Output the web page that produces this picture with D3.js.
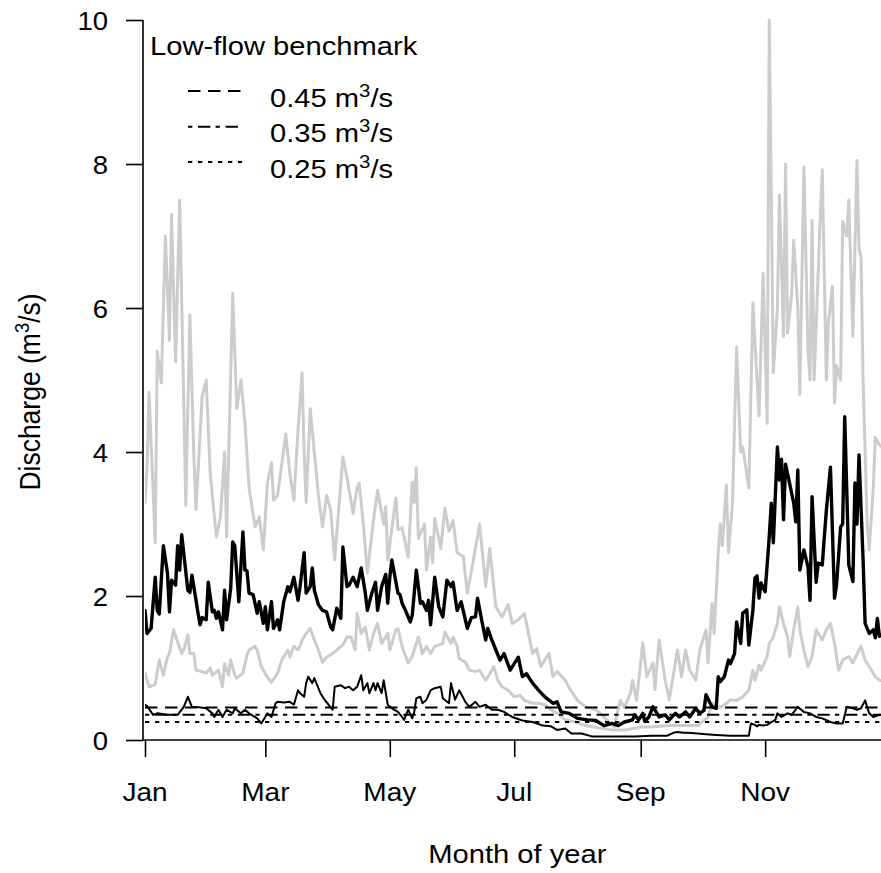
<!DOCTYPE html>
<html>
<head>
<meta charset="utf-8">
<script src="https://cdn.jsdelivr.net/npm/d3@7"></script>
<style>
  html, body { margin: 0; padding: 0; background: #ffffff; }
  svg { display: block; }
  text { font-family: "Liberation Sans", Arial, Helvetica, sans-serif; fill: #000; }
</style>
</head>
<body>
<svg id="chart" width="881" height="873"></svg>
<script>
// Daily discharge (m³/s) by day of year (0 = 1 January)
const upperBand = [[0,3.3],[1,3.75],[2,4.83],[5,2.74],[6,5.4],[8,4.96],[10,7.0],[12,5.55],[13,7.3],[15,5.25],[17,7.5],[20,3.26],[22,5.9],[24,3.9],[25,3.2],[28,4.77],[30,5.0],[32,3.7],[33,3.4],[35,2.82],[37,3.1],[39,4.0],[40,2.82],[43,6.2],[45,4.6],[47,5.0],[49,4.4],[51,3.5],[54,2.96],[56,3.1],[58,2.64],[60,3.57],[62,3.85],[63,3.33],[65,3.4],[69,4.25],[71,3.7],[73,3.33],[75,4.3],[77,5.1],[78,4.0],[79,3.3],[81,4.6],[83,4.0],[85,3.4],[87,2.96],[89,3.4],[91,3.2],[93,2.5],[97,3.93],[99,3.65],[102,3.15],[104,3.5],[105,3.57],[107,3.0],[109,2.32],[112,3.05],[114,3.47],[117,3.0],[118,3.24],[119,2.5],[123,3.36],[124,2.92],[126,2.95],[129,2.54],[131,3.58],[132,3.3],[133,3.78],[134,2.8],[137,3.0],[138,2.36],[140,2.82],[141,2.46],[142,3.08],[145,2.66],[147,3.22],[149,2.9],[151,3.05],[153,2.6],[156,2.55],[158,2.04],[161,2.5],[164,3.0],[167,2.13],[169,2.66],[172,1.85],[175,1.71],[178,1.88],[180,1.62],[183,1.67],[186,1.76],[190,1.2],[192,1.27],[194,1.02],[198,1.2],[200,0.88],[202,0.95],[206,0.83],[208,0.72],[212,0.55],[216,0.46],[221,0.42],[225,0.32],[230,0.18],[233,0.55],[235,0.45],[238,0.65],[239,0.83],[241,0.55],[244,1.35],[246,0.88],[249,1.07],[250,0.7],[252,1.39],[255,0.83],[257,0.56],[261,1.25],[263,0.88],[265,1.25],[267,0.97],[270,0.83],[272,1.25],[275,1.53],[276,1.07],[278,1.9],[279,1.48],[281,2.6],[282,3.0],[283,2.7],[285,3.54],[286,2.6],[288,3.3],[290,5.46],[292,4.0],[293,4.07],[296,3.5],[298,6.07],[300,5.0],[301,4.5],[303,6.48],[305,4.4],[306,10.0],[307,7.64],[308,5.1],[310,6.0],[311,7.57],[313,5.6],[314,8.0],[315,5.65],[317,6.2],[318,6.94],[320,6.0],[321,4.8],[323,7.96],[325,5.4],[326,5.0],[327,7.22],[328,5.0],[331,7.25],[332,7.92],[334,5.0],[335,5.8],[337,6.3],[338,4.68],[339,5.2],[341,5.0],[342,7.2],[344,7.0],[345,7.5],[347,5.6],[349,8.05],[350,6.83],[351,6.7],[352,5.0],[354,3.0],[355,2.64],[357,3.5],[358,4.2],[360,4.1],[364,4.0]];

const lowerBand = [[0,0.93],[2,0.74],[5,0.77],[7,1.11],[9,0.9],[11,1.15],[12,1.2],[14,1.53],[16,1.36],[18,1.2],[19,1.25],[21,1.46],[22,1.2],[24,1.2],[25,0.97],[28,0.95],[30,0.93],[32,1.0],[33,0.9],[36,0.97],[38,0.74],[39,1.06],[41,0.9],[42,1.11],[44,0.9],[45,0.86],[48,0.93],[50,1.18],[51,1.25],[54,1.3],[55,1.25],[57,1.02],[59,0.92],[62,0.8],[65,0.93],[67,1.11],[70,1.25],[71,1.15],[73,1.3],[75,1.25],[76,1.3],[77,1.39],[79,1.48],[81,1.55],[83,1.39],[85,1.25],[87,1.08],[89,1.15],[92,1.2],[94,1.25],[97,1.32],[99,1.43],[101,1.43],[103,1.25],[104,1.76],[106,1.48],[108,1.57],[110,1.25],[112,1.48],[114,1.62],[116,1.34],[119,1.48],[120,1.25],[123,1.53],[124,1.55],[126,1.3],[129,1.07],[131,1.16],[134,1.43],[136,1.2],[138,1.3],[140,1.2],[142,1.3],[144,1.32],[146,1.34],[147,1.5],[150,1.34],[151,1.43],[153,1.3],[154,1.13],[157,1.08],[159,0.97],[162,0.95],[164,0.97],[167,0.83],[169,0.92],[171,1.02],[173,0.83],[175,0.74],[178,0.69],[181,0.6],[184,0.62],[186,0.55],[190,0.51],[193,0.51],[196,0.49],[199,0.42],[202,0.37],[206,0.28],[211,0.25],[216,0.2],[222,0.17],[229,0.14],[235,0.14],[243,0.18],[248,0.18],[257,0.2],[271,0.2],[276,0.32],[278,0.51],[282,0.45],[285,0.51],[287,0.56],[290,0.55],[293,0.6],[296,0.69],[298,0.97],[299,0.83],[301,1.04],[302,0.97],[305,1.16],[306,1.34],[308,1.43],[310,1.62],[311,1.85],[313,1.62],[315,1.43],[316,1.16],[318,1.53],[320,1.85],[321,1.53],[323,1.25],[325,1.02],[327,1.16],[329,1.53],[332,1.39],[334,1.53],[336,1.62],[338,1.34],[340,0.97],[342,1.11],[345,1.16],[347,1.07],[350,1.25],[351,1.3],[353,1.11],[355,1.02],[358,0.88],[360,0.83],[364,0.8]];

const median = [[0,1.8],[1,1.48],[3,1.55],[5,2.26],[6,1.8],[7,1.75],[9,2.7],[11,2.32],[12,1.78],[13,2.22],[15,2.15],[16,2.7],[17,2.36],[18,2.85],[21,2.08],[22,2.05],[23,2.29],[25,1.94],[26,1.76],[27,1.6],[28,1.7],[30,1.67],[31,2.19],[33,1.78],[34,1.8],[35,1.69],[36,1.78],[38,1.53],[39,2.08],[40,1.67],[42,2.1],[43,2.75],[44,2.7],[46,1.92],[47,2.4],[48,2.89],[49,2.36],[50,2.35],[51,2.04],[53,2.02],[55,1.76],[56,1.92],[58,1.62],[59,1.85],[60,1.53],[62,1.92],[63,1.55],[65,1.67],[66,1.53],[68,1.92],[70,2.13],[71,2.06],[73,2.26],[75,1.94],[76,2.13],[78,2.6],[79,2.04],[81,2.13],[82,2.39],[83,2.08],[85,1.88],[87,1.8],[89,1.78],[91,1.57],[92,1.53],[94,1.83],[96,1.69],[97,2.68],[99,2.13],[100,2.15],[102,2.26],[104,2.13],[106,2.39],[108,2.04],[109,1.8],[111,2.02],[113,2.19],[114,1.8],[116,2.13],[118,2.3],[119,1.9],[120,2.26],[121,2.5],[124,2.04],[125,2.02],[126,1.9],[128,1.78],[130,1.64],[131,1.73],[133,2.36],[135,1.9],[136,1.92],[138,1.8],[139,1.94],[140,1.6],[142,2.26],[144,1.85],[146,1.71],[148,2.22],[150,2.13],[151,2.19],[153,1.8],[155,1.92],[158,1.55],[160,1.7],[162,1.71],[163,1.97],[165,1.67],[167,1.39],[168,1.55],[170,1.39],[172,1.25],[174,1.11],[176,1.2],[179,0.97],[181,1.06],[183,1.15],[185,0.88],[187,0.92],[190,0.79],[193,0.69],[196,0.6],[200,0.51],[202,0.53],[204,0.39],[208,0.37],[212,0.3],[217,0.28],[221,0.27],[225,0.2],[229,0.23],[232,0.2],[235,0.25],[239,0.28],[240,0.35],[242,0.28],[244,0.37],[245,0.26],[247,0.32],[249,0.46],[251,0.37],[252,0.32],[255,0.35],[257,0.28],[260,0.37],[262,0.32],[265,0.39],[267,0.32],[270,0.44],[272,0.37],[274,0.41],[275,0.63],[277,0.51],[278,0.46],[280,0.44],[281,0.88],[282,0.81],[284,0.88],[286,1.11],[287,1.06],[289,1.2],[290,1.64],[292,1.34],[293,1.76],[295,1.81],[296,1.32],[298,1.81],[299,2.25],[300,2.28],[301,1.97],[302,2.18],[304,2.06],[306,2.82],[307,3.29],[308,2.74],[310,4.07],[311,3.61],[312,3.9],[313,3.06],[314,3.83],[316,3.56],[318,3.29],[319,3.03],[320,3.75],[321,2.36],[323,2.64],[325,2.4],[326,1.94],[327,3.38],[329,2.19],[330,2.46],[332,2.43],[333,2.82],[334,3.19],[336,3.79],[338,1.97],[339,2.16],[341,2.96],[342,3.0],[343,4.49],[345,2.43],[347,2.2],[348,3.57],[349,3.0],[350,3.96],[352,2.5],[353,1.62],[355,1.48],[357,1.53],[358,1.42],[359,1.69],[360,1.44],[364,1.5]];

const dryYear = [[0,0.49],[1,0.47],[4,0.35],[6,0.37],[11,0.35],[16,0.35],[19,0.46],[21,0.6],[23,0.46],[25,0.46],[30,0.44],[33,0.37],[34,0.32],[36,0.42],[38,0.32],[40,0.42],[43,0.37],[44,0.44],[47,0.37],[49,0.42],[51,0.37],[55,0.3],[57,0.23],[60,0.37],[62,0.32],[64,0.51],[65,0.53],[68,0.52],[71,0.53],[73,0.49],[75,0.69],[76,0.65],[78,0.6],[79,0.79],[80,0.88],[82,0.79],[83,0.86],[86,0.65],[88,0.56],[92,0.42],[93,0.74],[96,0.76],[98,0.72],[100,0.74],[102,0.69],[104,0.74],[106,0.9],[107,0.69],[109,0.79],[110,0.65],[112,0.79],[113,0.69],[114,0.79],[116,0.65],[117,0.83],[119,0.49],[121,0.44],[124,0.39],[126,0.32],[127,0.28],[129,0.42],[131,0.3],[132,0.39],[133,0.58],[135,0.6],[136,0.51],[138,0.56],[140,0.69],[142,0.72],[145,0.74],[146,0.58],[149,0.51],[150,0.79],[152,0.56],[154,0.69],[157,0.53],[159,0.46],[162,0.53],[164,0.46],[167,0.49],[170,0.42],[173,0.42],[176,0.39],[180,0.32],[185,0.27],[190,0.25],[195,0.2],[199,0.19],[202,0.14],[206,0.16],[209,0.09],[214,0.09],[219,0.05],[225,0.05],[232,0.05],[240,0.05],[248,0.06],[256,0.06],[259,0.1],[261,0.11],[264,0.1],[266,0.1],[271,0.09],[275,0.08],[280,0.07],[287,0.06],[296,0.06],[297,0.23],[299,0.21],[300,0.19],[301,0.21],[303,0.2],[305,0.21],[306,0.23],[309,0.28],[310,0.37],[312,0.32],[315,0.37],[317,0.35],[320,0.46],[323,0.39],[326,0.37],[329,0.32],[332,0.3],[336,0.25],[339,0.23],[342,0.23],[344,0.46],[347,0.44],[349,0.42],[351,0.44],[353,0.55],[355,0.37],[357,0.32],[360,0.35],[364,0.35]];

// Low-flow benchmarks (m³/s)
const benchmarks = [0.45, 0.35, 0.25];
const benchmarkLabels = ["0.45", "0.35", "0.25"];

// Axis ticks
const monthTicks = [0, 59, 120, 181, 243, 304];
const monthLabels = ["Jan", "Mar", "May", "Jul", "Sep", "Nov"];
const yTicks = [0, 2, 4, 6, 8, 10];

(function draw() {
  const svg = d3.select("#chart");
  const W = 881;
  const pLeft = 145, pTop = 20, pBottom = 740, pRight = 889.6;

  const x = d3.scaleLinear().domain([0, 365]).range([pLeft, pRight]);
  const y = d3.scaleLinear().domain([0, 10]).range([pBottom, pTop]);

  const stretch = 1.1; // glyphs are slightly wide

  svg.append("defs").append("clipPath").attr("id", "plotClip")
    .append("rect").attr("x", pLeft).attr("y", 0).attr("width", W - pLeft).attr("height", pBottom + 1);

  const plot = svg.append("g").attr("clip-path", "url(#plotClip)");

  const line = d3.line().x(d => x(d[0])).y(d => y(d[1]));

  const seriesStyles = [
    { data: upperBand, color: "#cccccc", width: 3 },
    { data: lowerBand, color: "#cccccc", width: 3 },
    { data: median, color: "#000000", width: 3.4 },
    { data: dryYear, color: "#000000", width: 2 }
  ];
  seriesStyles.forEach(s => {
    plot.append("path")
      .datum(s.data)
      .attr("d", line)
      .attr("fill", "none")
      .attr("stroke", s.color)
      .attr("stroke-width", s.width)
      .attr("stroke-linejoin", "round")
      .attr("stroke-linecap", "round");
  });

  const dashes = ["12.5,7.5", "4.3,5.7,12.3,5.3", "4.3,5.7"];
  benchmarks.forEach((b, i) => {
    plot.append("line")
      .attr("x1", pLeft).attr("x2", pRight)
      .attr("y1", y(b)).attr("y2", y(b))
      .attr("stroke", "#000").attr("stroke-width", 2)
      .attr("stroke-dasharray", dashes[i]);
  });

  // Y axis
  const yAxis = d3.axisLeft(y).tickValues(yTicks).tickSize(17).tickFormat(() => "");
  const gy = svg.append("g").attr("transform", `translate(${pLeft - 2},0)`).call(yAxis);
  gy.select(".domain").attr("d", `M0,${pTop}V${pBottom}`).attr("stroke-width", 1.6);
  gy.selectAll(".tick line").attr("stroke-width", 1.6);
  yTicks.forEach(v => {
    svg.append("text")
      .attr("transform", `translate(108,${y(v) + 10}) scale(${stretch},1)`)
      .attr("text-anchor", "end")
      .attr("font-size", 25)
      .text(v);
  });

  // X axis
  const xAxis = d3.axisBottom(x).tickValues(monthTicks).tickSize(17).tickFormat(() => "");
  const gx = svg.append("g").attr("transform", `translate(0,${pBottom})`).call(xAxis);
  gx.select(".domain").attr("d", `M${pLeft - 2},0H${pRight}`).attr("stroke-width", 1.6);
  gx.selectAll(".tick line").attr("stroke-width", 1.6);
  monthTicks.forEach((d, i) => {
    svg.append("text")
      .attr("transform", `translate(${x(d)},801) scale(${stretch},1)`)
      .attr("text-anchor", "middle")
      .attr("font-size", 25.5)
      .text(monthLabels[i]);
  });

  // Axis titles
  svg.append("text")
    .attr("transform", `translate(${(pLeft + pRight) / 2},863) scale(${stretch},1)`)
    .attr("text-anchor", "middle")
    .attr("font-size", 26.5)
    .text("Month of year");

  const yt = svg.append("text")
    .attr("transform", `translate(40,${(pTop + pBottom) / 2 + 12}) scale(${stretch},1) rotate(-90)`)
    .attr("text-anchor", "middle")
    .attr("font-size", 26.5);
  yt.append("tspan").text("Discharge (m");
  yt.append("tspan").attr("font-size", 18.5).attr("dy", -10).text("3");
  yt.append("tspan").attr("dy", 10).text("/s)");

  // Legend
  svg.append("text")
    .attr("transform", `translate(150,55) scale(${stretch},1)`)
    .attr("font-size", 26.5)
    .text("Low-flow benchmark");

  const legendLineY = [91, 126.7, 162];
  benchmarkLabels.forEach((lab, i) => {
    svg.append("line")
      .attr("x1", 188).attr("x2", 242)
      .attr("y1", legendLineY[i]).attr("y2", legendLineY[i])
      .attr("stroke", "#000").attr("stroke-width", 2)
      .attr("stroke-dasharray", dashes[i]);
    const t = svg.append("text")
      .attr("transform", `translate(270,${legendLineY[i] + 15.7}) scale(${stretch},1)`)
      .attr("font-size", 26.5);
    t.append("tspan").text(lab + " m");
    t.append("tspan").attr("font-size", 18.5).attr("dy", -10).text("3");
    t.append("tspan").attr("dy", 10).text("/s");
  });
})();
</script>
</body>
</html>
